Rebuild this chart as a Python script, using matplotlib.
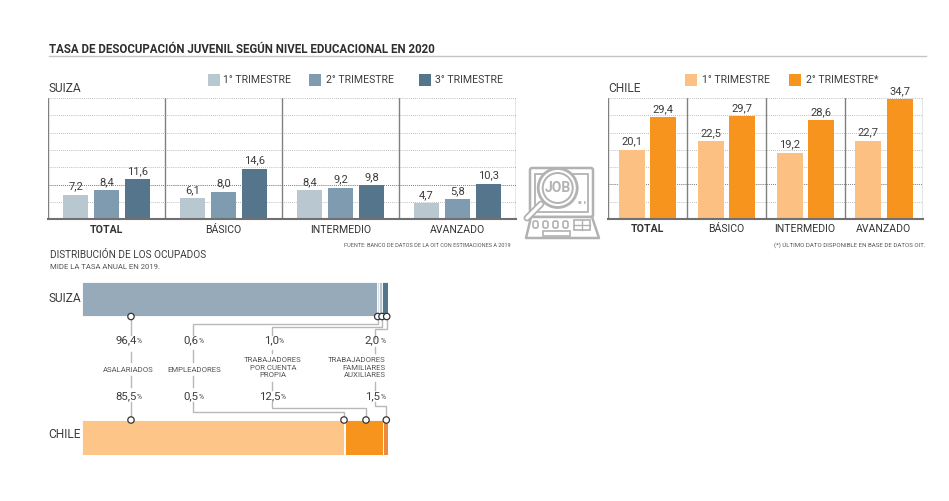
import numpy as np
import matplotlib
matplotlib.use('Agg')
import matplotlib.pyplot as plt
from matplotlib.patches import Circle, Rectangle, FancyBboxPatch, Polygon

plt.rcParams['font.family'] = ['Roboto', 'DejaVu Sans']

# Data
niveles = ['TOTAL', 'BÁSICO', 'INTERMEDIO', 'AVANZADO']
suiza_t1 = [7.2, 6.1, 8.4, 4.7]
suiza_t2 = [8.4, 8.0, 9.2, 5.8]
suiza_t3 = [11.6, 14.6, 9.8, 10.3]
chile_t1 = [20.1, 22.5, 19.2, 22.7]
chile_t2 = [29.4, 29.7, 28.6, 34.7]
suiza_dist = [96.4, 0.6, 1.0, 2.0]
chile_dist = [85.5, 0.5, 12.5, 1.5]
suiza_dist_labels = ['96,4', '0,6', '1,0', '2,0']
chile_dist_labels = ['85,5', '0,5', '12,5', '1,5']
categorias_dist = ['ASALARIADOS', 'EMPLEADORES', 'TRABAJADORES\nPOR CUENTA\nPROPIA',
                   'TRABAJADORES\nFAMILIARES\nAUXILIARES']

W, H = 949, 501
TXT = '#3c3c3c'
LINE = '#b8b8b8'
GREY_ICON = '#b2b2b2'
COL_S = ['#b9c7d1', '#7f9bb0', '#55758c']
COL_C = ['#fcc083', '#f7941e']
COL_SD = ['#97aaba', '#dbe3e9', '#b9c7d1', '#55758c']
COL_CD = ['#fdc587', '#fbd3a6', '#f7941e', '#ef8a3c']


def px_axes(x0, y0, x1, y1):
    # axes placed from pixel coordinates of the reference
    return fig.add_axes([x0 / W, 1 - y1 / H, (x1 - x0) / W, (y1 - y0) / H])


def bar_panel(box, series, colors, offset, width):
    ax = px_axes(*box)
    ax.set_xlim(0, 4)
    ax.set_ylim(0, 35)
    ax.set_yticks(np.arange(5, 35, 5))
    ax.grid(axis='y', color='#a8a8a8', linestyle=(0, (1, 1.5)), linewidth=0.6)
    ax.axhline(35, color='#a8a8a8', linestyle=(0, (1, 1.5)), linewidth=0.6)
    ax.axhline(10, color='#6e6e6e', linestyle=(0, (1, 1.5)), linewidth=0.6)
    ax.set_axisbelow(True)
    ax.tick_params(left=False, bottom=False, labelleft=False, labelbottom=False)
    for s in ['top', 'left', 'right', 'bottom']:
        ax.spines[s].set_visible(False)
    for i in range(5):
        ax.axvline(i, color='#808080', linewidth=1.0, zorder=1)
    ax.axhline(0, color='#707070', linewidth=1.5, zorder=4, clip_on=False)
    n = len(series)
    for j, vals in enumerate(series):
        xs = np.arange(4) + 0.5 + (j - (n - 1) / 2) * offset
        ax.bar(xs, vals, width=width, color=colors[j], zorder=3)
        for x, v in zip(xs, vals):
            ax.text(x, v + 0.9, f'{v:.1f}'.replace('.', ','), ha='center', va='bottom',
                    fontsize=8, color=TXT, clip_on=False)
    for i, name in enumerate(niveles):
        ax.text(i + 0.5, -2.9, name, ha='center', va='center', fontsize=7.6, color='#333333',
                fontweight='bold' if i == 0 else 'normal')
    return ax


fig = plt.figure(figsize=(W / 100, H / 100), dpi=100, facecolor='white')

bar_panel((48.3, 98, 515.7, 219.5), [suiza_t1, suiza_t2, suiza_t3], COL_S, 0.265, 0.214)
bar_panel((608.3, 98, 923.3, 219), [chile_t1, chile_t2], COL_C, 0.397, 0.33)

# Stacked distribution bars
ax_d = px_axes(82, 281.5, 388, 455)
ax_d.set_xlim(0, 100)
ax_d.set_ylim(173.5, 0)
ax_d.axis('off')
for vals, cols, top in [(suiza_dist, COL_SD, 0), (chile_dist, COL_CD, 138.5)]:
    left = 0
    for v, c in zip(vals, cols):
        ax_d.barh(top + 17.25, v, left=left, height=34.5, color=c, edgecolor='white', linewidth=0.6)
        left += v

# Overlay in pixel coordinates for text, connectors and icon
ov = fig.add_axes([0, 0, 1, 1], facecolor='none')
ov.set_xlim(0, W)
ov.set_ylim(H, 0)
ov.axis('off')

ov.text(49, 49, 'TASA DE DESOCUPACIÓN JUVENIL SEGÚN NIVEL EDUCACIONAL EN 2020', fontsize=8.3,
        fontweight='bold', color='#2e2e2e', va='center')
ov.plot([49, 926], [56, 56], color='#c4c4c4', linewidth=1)

ov.text(49, 88, 'SUIZA', fontsize=8.6, color=TXT, va='center')
ov.text(608, 88, 'CHILE', fontsize=8.6, color=TXT, va='center')
for x, xt, c, lab in [(208, 223, COL_S[0], '1° TRIMESTRE'), (309, 326.5, COL_S[1], '2° TRIMESTRE'),
                      (419, 435, COL_S[2], '3° TRIMESTRE'), (685, 702, COL_C[0], '1° TRIMESTRE'),
                      (789, 806, COL_C[1], '2° TRIMESTRE*')]:
    ov.add_patch(Rectangle((x, 74), 12, 12, color=c, linewidth=0))
    ov.text(xt, 80, lab, fontsize=7.6, color=TXT, va='center')

ov.text(511, 245.5, 'FUENTE: BANCO DE DATOS DE LA OIT CON ESTIMACIONES A 2019', fontsize=4,
        color='#555555', ha='right', va='center')
ov.text(926, 244.5, '(*) ÚLTIMO DATO DISPONIBLE EN BASE DE DATOS OIT.', fontsize=4.4,
        color='#555555', ha='right', va='center')

ov.text(50, 255, 'DISTRIBUCIÓN DE LOS OCUPADOS', fontsize=7.2, color=TXT, va='center')
ov.text(50, 267, 'MIDE LA TASA ANUAL EN 2019.', fontsize=5.6, color='#555555', va='center')
ov.text(49, 298, 'SUIZA', fontsize=8.6, color=TXT, va='center')
ov.text(48, 435, 'CHILE', fontsize=8.6, color=TXT, va='center')

# Connector lines: one route per category, broken where the labels sit
routes = [
    [[(131, 316), (131, 335)], [(131, 352), (131, 362)], [(131, 376), (131, 387)], [(131, 402), (131, 420)]],
    [[(377.7, 316), (377.7, 324), (193.3, 324), (193.3, 335)], [(193.3, 350), (193.3, 362)],
     [(193.3, 376), (193.3, 387)], [(193.3, 402), (193.3, 411.7), (344, 411.7), (344, 420)]],
    [[(382, 316), (382, 327.3), (272.3, 327.3), (272.3, 335)], [(272.3, 350), (272.3, 353)],
     [(272.3, 382), (272.3, 390)], [(272.3, 402), (272.3, 408.3), (366, 408.3), (366, 420)]],
    [[(386.7, 316), (386.7, 329.3), (375, 329.3), (375, 338)], [(375, 347), (375, 353)], [(375, 382), (375, 390)],
     [(375, 402), (375, 406), (386.3, 406), (386.3, 420)]],
]
for route in routes:
    for seg in route:
        xs, ys = zip(*seg)
        ov.plot(xs, ys, color=LINE, linewidth=1.0, solid_joinstyle='miter', zorder=2)

for x, y in [(131, 316.5), (377.7, 316.5), (382, 316.5), (386.7, 316.5),
             (131, 420), (344, 420), (366, 420), (386.3, 420)]:
    ov.add_patch(Circle((x, y), 3.2, facecolor='white', edgecolor='#333333', linewidth=0.9, zorder=5))


def pct(x, y, val):
    ov.text(x, y, val, fontsize=8.2, color=TXT, ha='right', va='center')
    ov.text(x + 0.2, y + 0.7, '%', fontsize=4.8, color=TXT, ha='left', va='center')


for x, v in zip([136.7, 198.7, 278.7, 380], suiza_dist_labels):
    pct(x, 340.7, v)
for x, v in zip([136.7, 198.7, 280.7, 380], chile_dist_labels):
    pct(x, 396.7, v)

ov.text(128.5, 370, categorias_dist[0], fontsize=5.6, color='#555555', ha='center', va='center')
ov.text(194.5, 370, categorias_dist[1], fontsize=5.6, color='#555555', ha='center', va='center')
ov.text(273, 367.7, categorias_dist[2], fontsize=5.6, color='#555555', ha='center', va='center', linespacing=1.3)
ov.text(386, 367.7, categorias_dist[3], fontsize=5.6, color='#555555', ha='right', va='center', linespacing=1.3)

# icon: laptop with a magnifier over it
ov.add_patch(FancyBboxPatch((530, 168), 63, 49, boxstyle='round,pad=0,rounding_size=2', facecolor='white',
                            edgecolor=GREY_ICON, linewidth=1.8))
ov.add_patch(Rectangle((535, 174), 53, 38, facecolor='none', edgecolor=GREY_ICON, linewidth=1.3))
ov.add_patch(Polygon([(531, 217), (592, 217), (599, 238), (526, 238)], closed=True, facecolor='white',
                     edgecolor=GREY_ICON, linewidth=1.8, joinstyle='round'))
for x in [533, 543, 553, 563]:
    ov.add_patch(FancyBboxPatch((x, 221), 5, 7, boxstyle='round,pad=0,rounding_size=2', facecolor='none',
                                edgecolor=GREY_ICON, linewidth=1.2))
ov.add_patch(Rectangle((574, 220), 16, 10, facecolor='none', edgecolor=GREY_ICON, linewidth=1.2))
ov.plot([582, 582], [220, 230], color=GREY_ICON, linewidth=1)
ov.plot([574, 590], [225, 225], color=GREY_ICON, linewidth=1)
ov.add_patch(Rectangle((543, 231), 27, 5, facecolor='none', edgecolor=GREY_ICON, linewidth=1.2))
ov.plot([578, 585], [202, 202], color=GREY_ICON, linewidth=2, linestyle=(0, (1, 1)))
ov.add_patch(Circle((557.7, 188), 19.5, facecolor='white', edgecolor=GREY_ICON, linewidth=2, zorder=3))
ov.add_patch(Circle((557.7, 188), 15, facecolor='none', edgecolor=GREY_ICON, linewidth=1.4, zorder=3))
ov.text(557.7, 188.5, 'JOB', fontsize=10, fontweight='bold', color=GREY_ICON, ha='center', va='center', zorder=4)
ov.plot([541, 527], [204, 218], color=GREY_ICON, linewidth=5, solid_capstyle='round', zorder=3)
ov.plot([541, 527], [204, 218], color='white', linewidth=2.4, solid_capstyle='round', zorder=3)

fig.savefig('out.png', dpi=100)
